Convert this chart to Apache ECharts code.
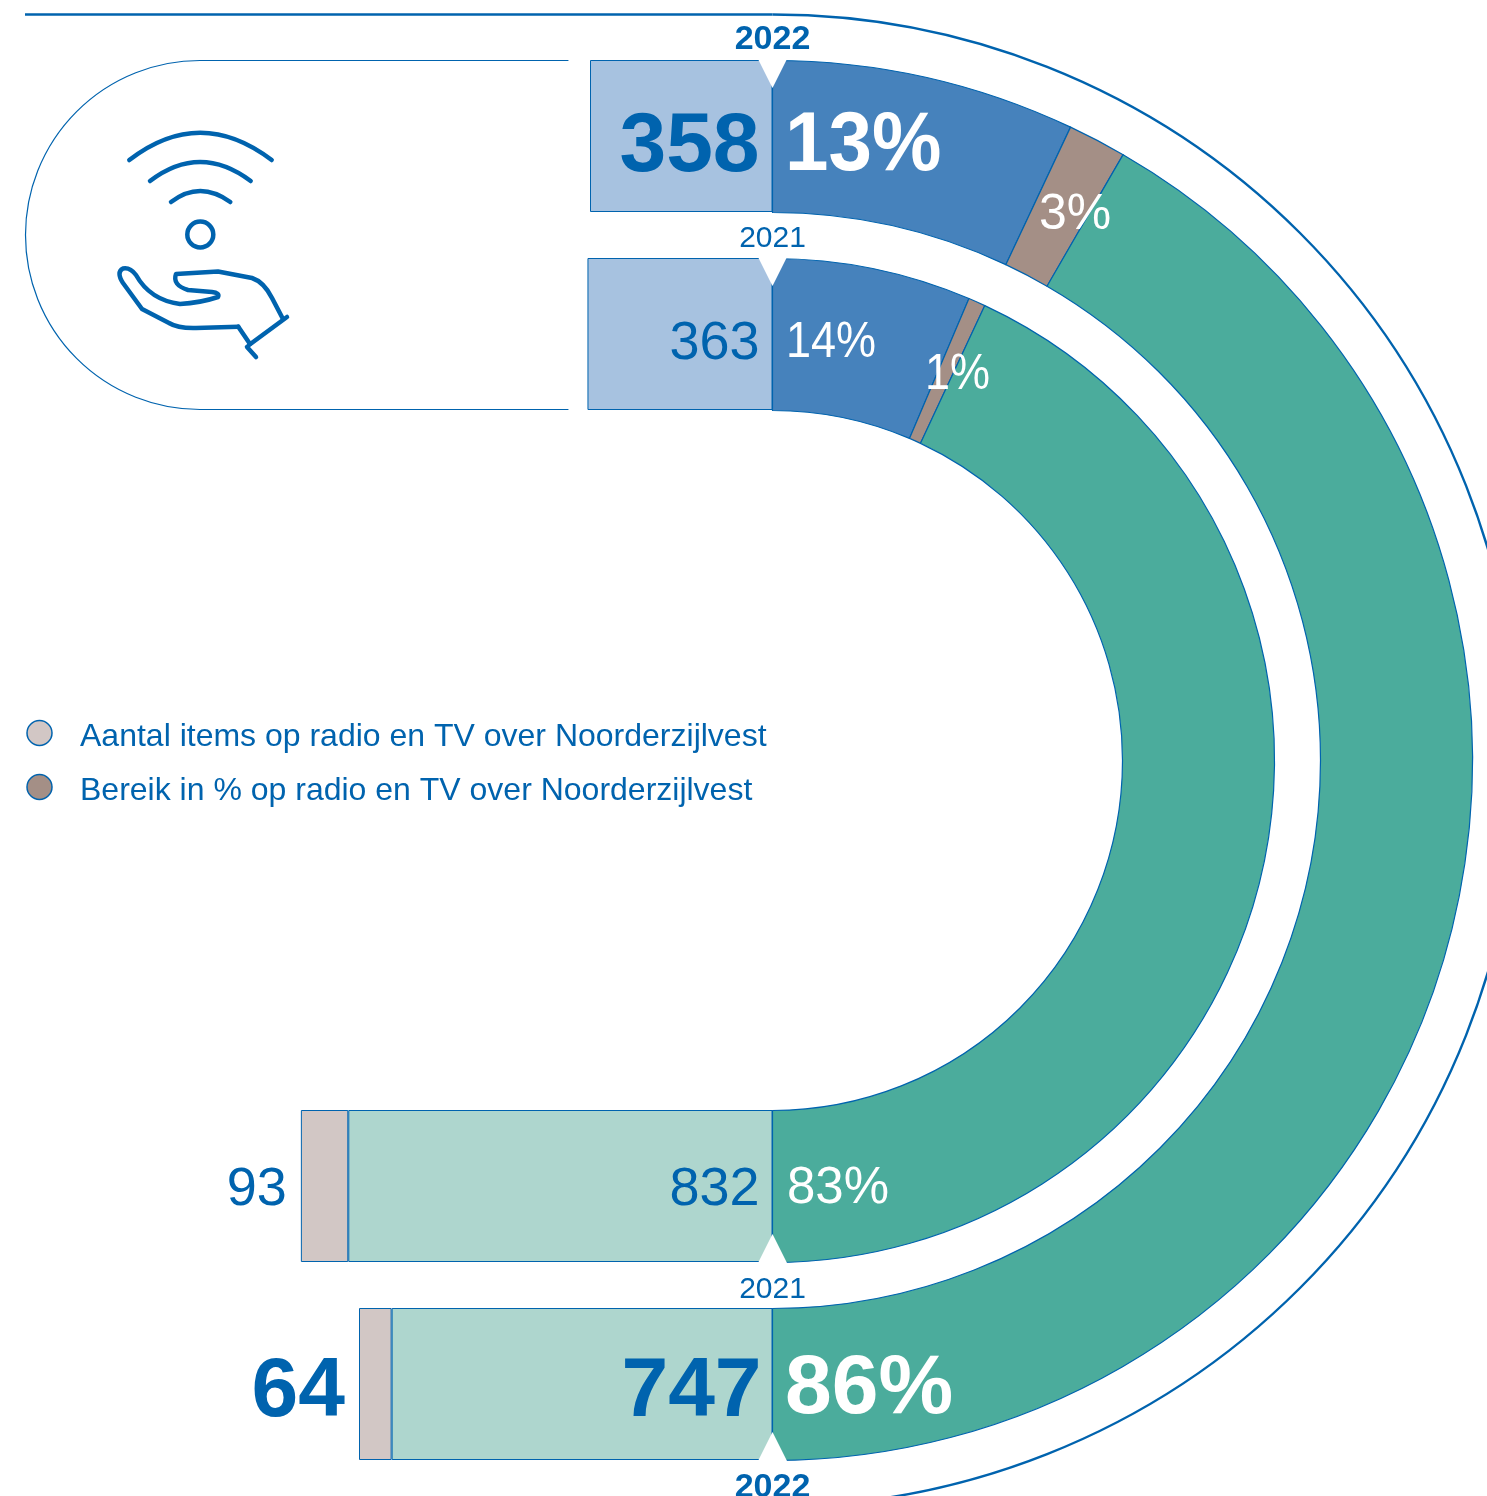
<!DOCTYPE html>
<html>
<head>
<meta charset="utf-8">
<title>Radio en TV</title>
<style>
    html, body { margin: 0; padding: 0; background: #fff; overflow: hidden; }
    #chart { width: 1487px; height: 1496px; }
</style>
<script src="https://cdn.jsdelivr.net/npm/echarts@6/dist/echarts.min.js"></script>
</head>
<body>
<div id="chart"></div>
<script>
// aantal items, boven = negatief bereik, onder = neutraal + positief
const rowYears = ['2022', '2021', '2021', '2022'];
const itemsMain = [358, 363, 832, 747];
const itemsExtra = [null, null, 93, 64];

// aandeel van de halve ring zoals getekend in het plaatje (labels wijken iets af)
const share2022 = [14, 2.7, 83.3];
const share2021 = [12.8, 1.1, 86.1];
const label2022 = ['13%', '3%', '86%'];
const label2021 = ['14%', '1%', '83%'];

const legendItems = [
    'Aantal items op radio en TV over Noorderzijlvest',
    'Bereik in % op radio en TV over Noorderzijlvest'
];

const FONT = '"Liberation Sans", Arial, sans-serif';
const LINE = '#0063ae';
const BLUE = '#4682bc';
const BROWN = '#a48f86';
const TEAL = '#4bac9c';
const LIGHT_BLUE = '#a7c2e0';
const LIGHT_TEAL = '#aed6ce';
const LIGHT_BROWN = '#d2c7c5';

const CX = 772.5;
const CY = 760.5;
const rowTops = [60, 258, 1110, 1308];
const rowColors = [LIGHT_BLUE, LIGHT_BLUE, LIGHT_TEAL, LIGHT_TEAL];
const labelOffsets = [12, 10, 4, 9];
const labelDistances = [13, 13, 13, 11];
// bold = 2022
const bigSize = 84;
const smallSize = 54;

function numberLabel(i, position, distance) {
    const bold = rowYears[i] === '2022';
    return {
        show: true,
        position: position,
        distance: distance,
        offset: [0, labelOffsets[i]],
        color: LINE,
        fontFamily: FONT,
        fontSize: bold ? bigSize : smallSize,
        fontWeight: bold ? 'bold' : 'normal'
    };
}

const barSeries = [];
rowYears.forEach((year, i) => {
    barSeries.push({
        type: 'bar',
        xAxisIndex: i,
        yAxisIndex: i,
        stack: 'row' + i,
        barWidth: '100%',
        silent: true,
        animation: false,
        data: [itemsMain[i]],
        itemStyle: { color: rowColors[i], borderColor: LINE, borderWidth: 1 },
        label: numberLabel(i, 'insideRight', labelDistances[i])
    });
    if (itemsExtra[i] != null) {
        barSeries.push({
            type: 'bar',
            xAxisIndex: i,
            yAxisIndex: i,
            stack: 'row' + i,
            barWidth: '100%',
            silent: true,
            animation: false,
            data: [itemsExtra[i]],
            itemStyle: { color: LIGHT_BROWN, borderColor: LINE, borderWidth: 1 },
            label: numberLabel(i, 'left', 14)
        });
    }
});

function ring(values, radius) {
    const colors = [BLUE, BROWN, TEAL];
    return {
        type: 'pie',
        center: [CX, CY],
        radius: radius,
        startAngle: 90,
        endAngle: -90,
        silent: true,
        animation: false,
        label: { show: false },
        labelLine: { show: false },
        data: values.map((v, i) => ({
            value: v,
            itemStyle: { color: colors[i], borderColor: LINE, borderWidth: 1.2 }
        }))
    };
}

function pctText(text, x, y, size, bold, scaleX) {
    return {
        type: 'text',
        z: 20,
        x: x,
        y: y,
        scaleX: scaleX || 1,
        style: {
            text: text,
            fill: '#fff',
            font: (bold ? 'bold ' : '') + size + 'px ' + FONT,
            textAlign: 'left',
            textVerticalAlign: 'middle'
        }
    };
}

function yearText(text, y, bold) {
    return {
        type: 'text',
        z: 20,
        x: CX,
        y: y,
        style: {
            text: text,
            fill: LINE,
            font: (bold ? 'bold 34px ' : '30px ') + FONT,
            textAlign: 'center',
            textVerticalAlign: 'middle'
        }
    };
}

function notch(baseY, dir) {
    return {
        type: 'polygon',
        z: 15,
        shape: { points: [[CX - 14.5, baseY - dir], [CX + 14.5, baseY - dir], [CX, baseY + dir * 28]] },
        style: { fill: '#fff' }
    };
}

// het graphic-component kent geen 'path', dus elke vorm apart registreren
let shapeCount = 0;
function stroke(d, width) {
    const name = 'iconShape' + (shapeCount++);
    echarts.graphic.registerShape(name, echarts.graphic.extendPath(d, {}));
    return {
        type: name,
        z: 5,
        style: { fill: null, stroke: LINE, lineWidth: width, lineCap: 'round', lineJoin: 'round' }
    };
}

const graphics = [
    // buitenste lijn
    { type: 'line', z: 5, shape: { x1: 25, y1: 14.5, x2: CX, y2: 14.5 }, style: { stroke: LINE, lineWidth: 2.4 } },
    {
        type: 'arc',
        z: 5,
        shape: { cx: CX, cy: CY, r: 746, startAngle: -Math.PI / 2, endAngle: Math.PI / 2, clockwise: true },
        style: { fill: null, stroke: LINE, lineWidth: 2.4 }
    },
    // pil om het icoon
    stroke('M568 60.5 H200 A174.5 174.5 0 0 0 200 409.5 H568', 1.2),
    // icoon
    stroke('M129.3 160 Q200 105.4 271.7 160', 4.5),
    stroke('M150 181 Q200 143 250.7 181', 4.5),
    stroke('M171 202 Q200 180 230.3 202', 4.5),
    { type: 'circle', z: 5, shape: { cx: 200.3, cy: 234.5, r: 13 }, style: { fill: null, stroke: LINE, lineWidth: 4.5 } },
    stroke('M238.3 326.7 L196 328 Q178 328.5 169 323 L142 309 L123 283 Q116 272 123 268.5 Q130 267 136 275 Q150 300 180 304 Q200 303 218 297 Q220 293 212 292 L188 290 Q172 285 176 274 L218 271.5 L252 278 Q264 282 272 298 L283 319', 4.5),
    stroke('M238.3 326.7 L250 344', 4.5),
    stroke('M287 317 L249 345', 4.5),
    stroke('M247 347 L256 357', 4.5),
    // inkepingen
    notch(60, 1),
    notch(258, 1),
    notch(1262, -1),
    notch(1460, -1),
    // jaartallen
    yearText('2022', 40, true),
    yearText('2021', 239, false),
    yearText('2021', 1290, false),
    yearText('2022', 1488, true),
    // percentages
    pctText(label2022[0], 785, 147, 84, true, 0.93),
    pctText(label2022[1], 1039, 215, 50, false),
    pctText(label2022[2], 785, 1390, 84, true),
    pctText(label2021[0], 786, 343, 50, false, 0.9),
    pctText(label2021[1], 925, 375, 50, false, 0.9),
    pctText(label2021[2], 787, 1189, 51, false),
    // legenda
    { type: 'circle', z: 5, shape: { cx: 39.5, cy: 733, r: 12.5 }, style: { fill: LIGHT_BROWN, stroke: LINE, lineWidth: 1.5 } },
    { type: 'circle', z: 5, shape: { cx: 39.5, cy: 787, r: 12.5 }, style: { fill: BROWN, stroke: LINE, lineWidth: 1.5 } }
];

legendItems.forEach((text, i) => {
    graphics.push({
        type: 'text',
        z: 5,
        x: 80,
        y: 737 + i * 54,
        style: {
            text: text,
            fill: LINE,
            font: '32px ' + FONT,
            textAlign: 'left',
            textVerticalAlign: 'middle'
        }
    });
});

const myChart = echarts.init(document.getElementById('chart'), null, { renderer: 'canvas' });
myChart.setOption({
    backgroundColor: '#fff',
    animation: false,
    tooltip: { show: false },
    grid: rowTops.map(top => ({ left: 0, right: 0, top: top, height: 152 })),
    xAxis: rowTops.map((top, i) => ({
        type: 'value',
        gridIndex: i,
        inverse: true,
        min: -1401,
        max: 1515,
        show: false
    })),
    yAxis: rowTops.map((top, i) => ({
        type: 'category',
        gridIndex: i,
        data: [rowYears[i]],
        show: false
    })),
    series: barSeries.concat([
        ring(share2021, [350, 502]),
        ring(share2022, [548, 700])
    ]),
    graphic: { elements: graphics }
});
</script>
</body>
</html>
